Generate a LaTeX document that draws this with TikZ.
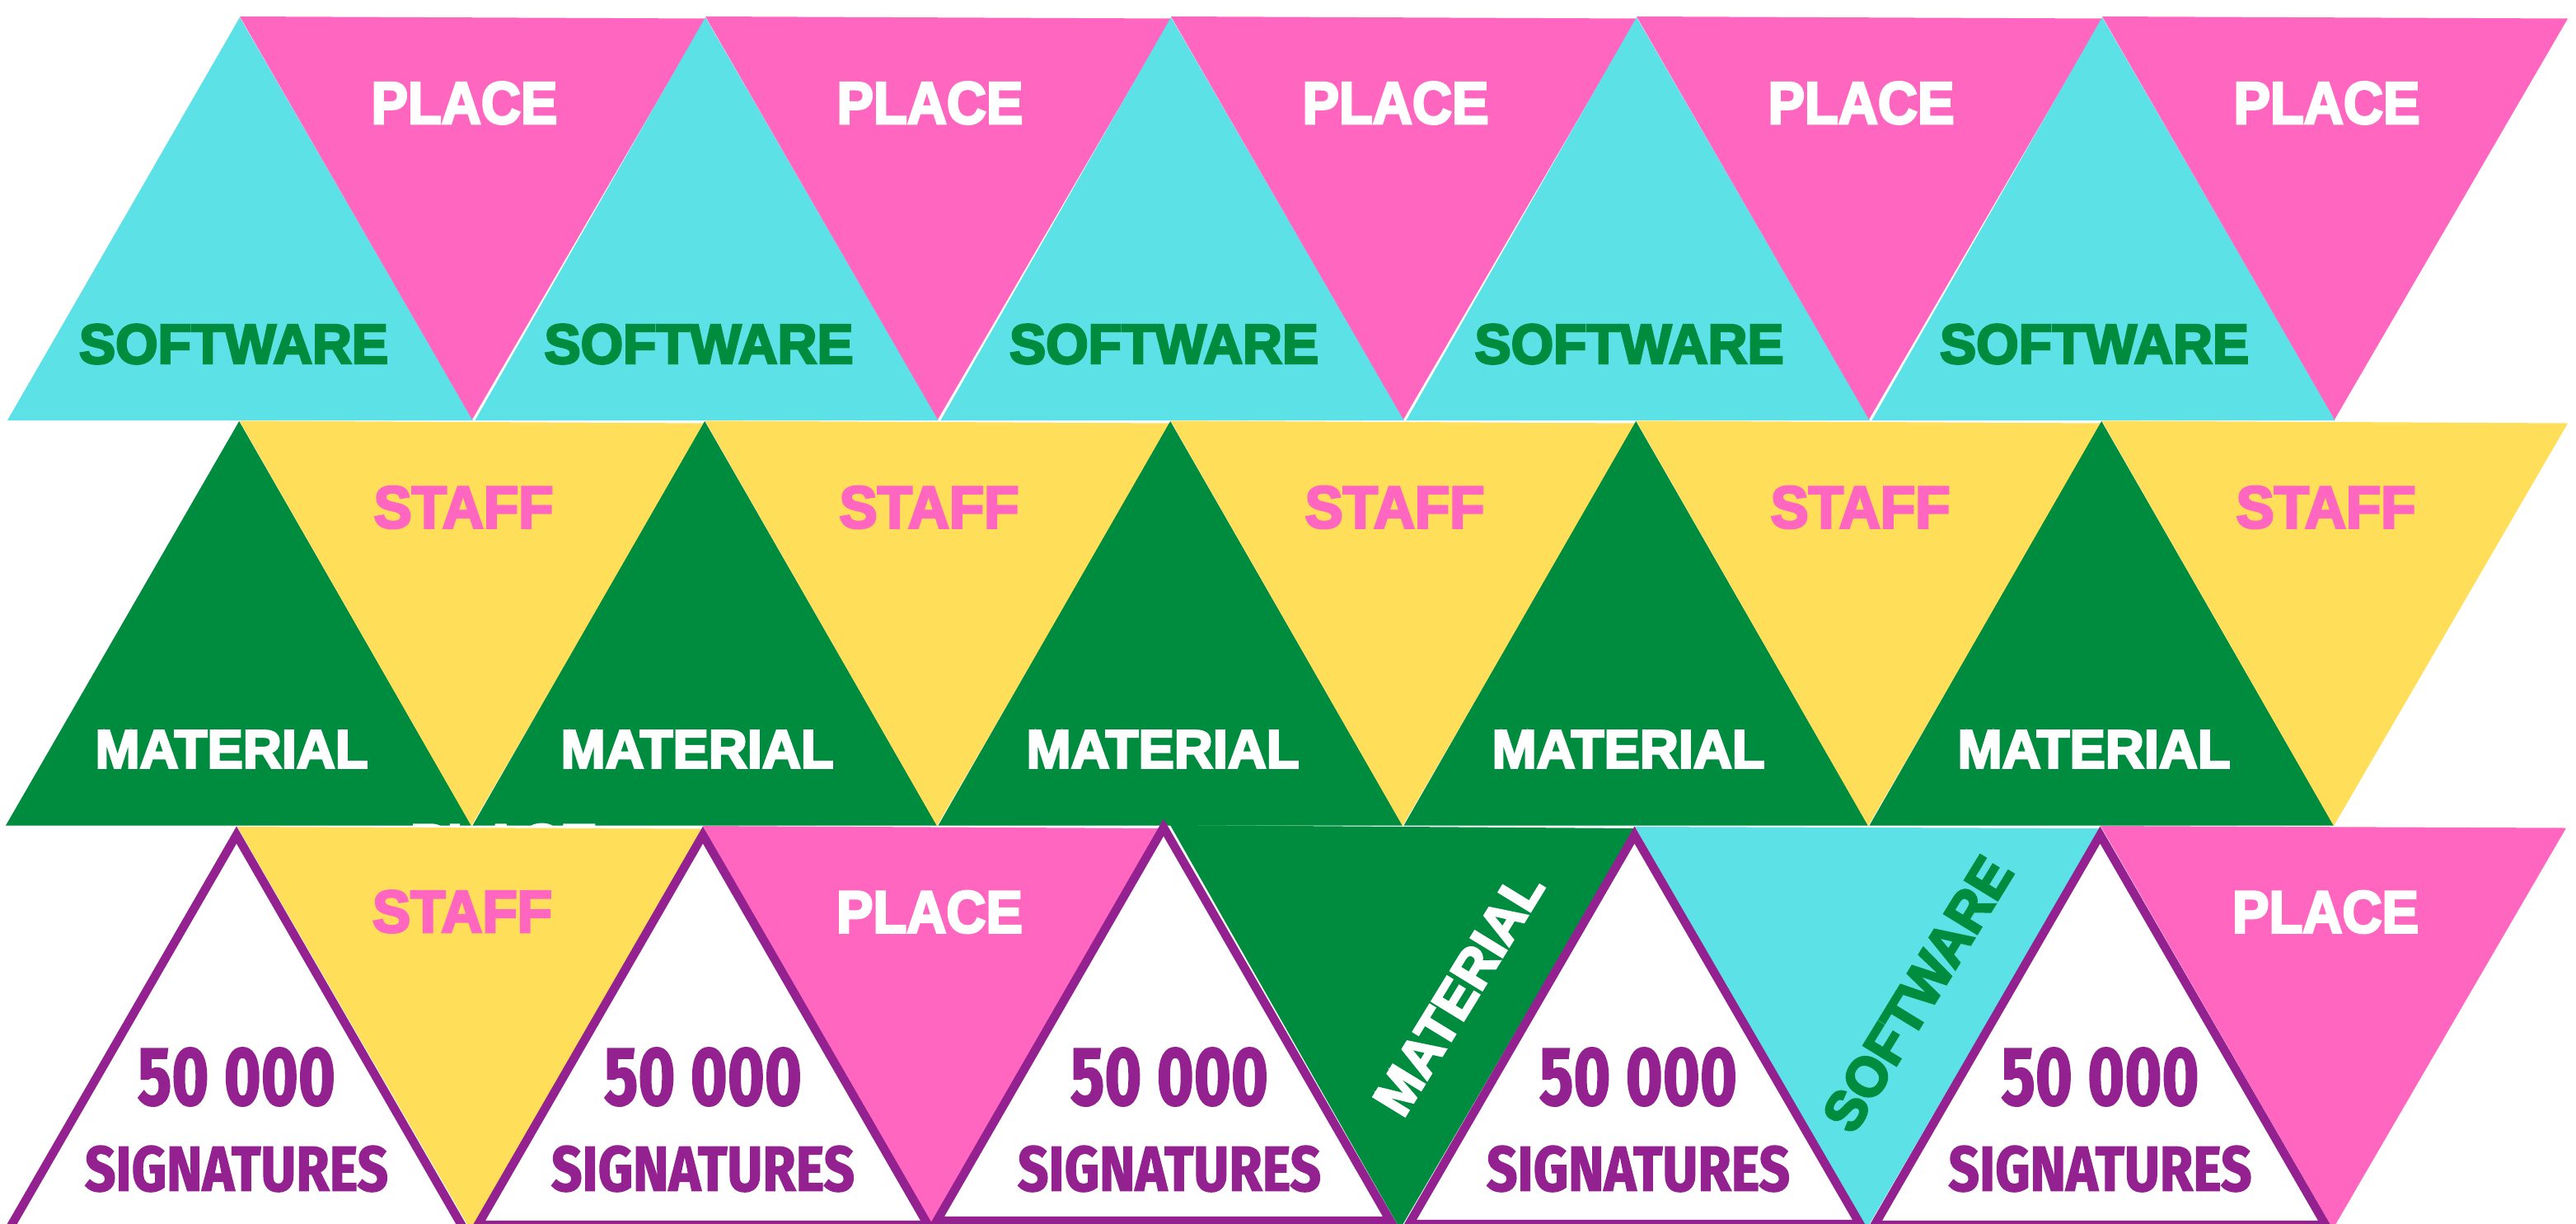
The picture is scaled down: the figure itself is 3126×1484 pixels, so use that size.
\documentclass[tikz,border=0pt]{standalone}
\usepackage{fontspec}
\usepackage{graphicx}
\setmainfont{Liberation Sans}
\newfontfamily\heavyfont[BoldFeatures={FakeBold=4}]{Liberation Sans}
\newfontfamily\condfont[BoldFeatures={FakeBold=2}]{Fira Sans}
\definecolor{tealc}{HTML}{5CE1E6}
\definecolor{pinkc}{HTML}{FF66C0}
\definecolor{yellowc}{HTML}{FFDE59}
\definecolor{greenc}{HTML}{008C3F}
\definecolor{purplec}{HTML}{932290}
\newcommand{\fitheavy}[3]{\resizebox*{#1pt}{#2pt}{\fontsize{40}{44}\heavyfont\bfseries #3}}
\newcommand{\fitcond}[3]{\resizebox*{#1pt}{#2pt}{\fontsize{40}{44}\condfont\bfseries #3}}
\tikzset{
  label/.style={inner sep=0pt,outer sep=0pt},
  plate/.style={draw=purplec,line width=10.5pt,fill=white,line join=miter}
}
\begin{document}
\begin{tikzpicture}[x=1pt,y=-1pt]
\useasboundingbox (0,0) rectangle (3126,1484);
\clip (0,0) rectangle (3126,1484);
\fill[white] (0,0) rectangle (3126,1484);
% row 1
\foreach \k [evaluate=\k as \gap using {ifthenelse(\k>0,2.5,0)}] in {0,...,4}{
  \fill[tealc] (9+565*\k+\gap,510) -- (291+565*\k,21) -- (574+565*\k,510) -- cycle;
  \fill[pinkc] (291+565*\k,20) -- (856+565*\k,22.5) -- (573+565*\k,509) -- cycle;
}
\foreach \k in {0,...,4}{
  \node[label,text=white] (placeA\k) at (563.5+565*\k,125) {\fitheavy{226}{51}{PLACE}};
  \node[label,text=greenc] (softA\k) at (283.5+564.5*\k,417.5) {\fitheavy{375}{48}{SOFTWARE}};
}
% row 2
\foreach \k [evaluate=\k as \gap using {ifthenelse(\k>0,1.5,0)}] in {0,...,4}{
  \fill[greenc] (7+565*\k+\gap,1001.5) -- (290.2+565*\k,511) -- (572+565*\k,1001.5) -- cycle;
  \fill[yellowc] (290.5+565*\k,510.5) -- (856+565*\k,513.5) -- (572+565*\k,1002) -- cycle;
}
\foreach \k in {0,...,4}{
  \node[label,text=pinkc] (staffB\k) at (562.5+565*\k,615.5) {\fitheavy{218}{51}{STAFF}};
  \node[label,text=white] (matB\k) at (281+565*\k,909) {\fitheavy{331}{45}{MATERIAL}};
}
% hidden label, only its top shows
\node[label,text=white] (placeHidden) at (611.5,1025.5) {\fitheavy{227}{51}{PLACE}};
% row 3 pennants
\fill[yellowc] (288,1003) -- (853,1005.5) -- (571,1492) -- cycle;
\fill[pinkc] (853,1002) -- (1413,1005) -- (1130,1491) -- cycle;
\fill[greenc] (1420,1001) -- (1984,1005) -- (1699,1491) -- cycle;
\fill[tealc] (1984,1003) -- (2549,1005) -- (2265,1491) -- cycle;
\fill[pinkc] (2549,1002) -- (3114,1004.5) -- (2831,1491) -- cycle;
% row 3 plates
\draw[plate] (6,1500) -- (287,1013) -- (568,1500) -- cycle;
\draw[plate] (580,1486) -- (853,1013) -- (1126,1486) -- cycle;
\draw[plate] (1137,1481) -- (1412,1004) -- (1687,1481) -- cycle;
\draw[plate] (1710,1485) -- (1983.5,1013) -- (2257,1485) -- cycle;
\draw[plate] (2275,1486) -- (2548.5,1013) -- (2822,1486) -- cycle;
% row 3 labels
\node[label,text=pinkc] (staffC) at (561,1106) {\fitheavy{218}{51}{STAFF}};
\node[label,text=white] (placeC1) at (1128,1106.5) {\fitheavy{226}{51}{PLACE}};
\node[label,text=white] (placeC2) at (2822,1106.5) {\fitheavy{226}{51}{PLACE}};
\node[label,text=white,rotate=58.5] (matC) at (1770,1205) {\fitheavy{331}{45}{MATERIAL}};
\node[label,text=greenc,rotate=58.5] (softC) at (2327,1206) {\fitheavy{375}{48}{SOFTWARE}};
\foreach \c [count=\i] in {287,853,1419,1988,2548.5}{
  \node[label,text=purplec] (numC\i) at (\c,1306.5) {\fitcond{240}{71}{50 000}};
  \node[label,text=purplec] (sigC\i) at (\c,1418) {\fitcond{368}{56}{SIGNATURES}};
}
\end{tikzpicture}
\end{document}
